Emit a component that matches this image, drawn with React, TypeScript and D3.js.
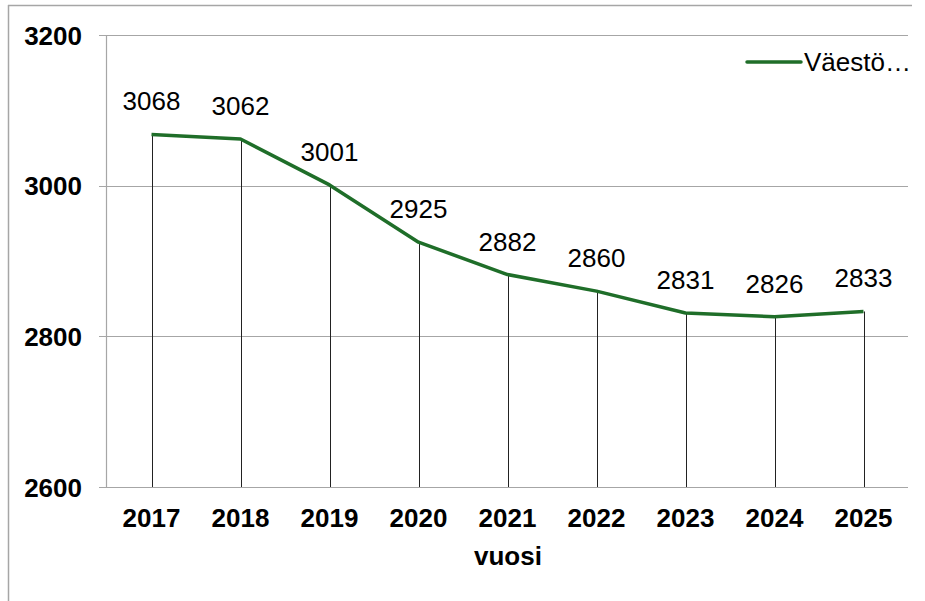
import { useEffect, useRef } from "react";
import { select, scaleLinear, scaleBand, line } from "d3";

const years = ["2017", "2018", "2019", "2020", "2021", "2022", "2023", "2024", "2025"];
const population = [3068, 3062, 3001, 2925, 2882, 2860, 2831, 2826, 2833];
const yTicks = [2600, 2800, 3000, 3200];
const seriesName = "Väestö…";
const xTitle = "vuosi";

const App = () => {
  const ref = useRef<SVGSVGElement>(null);

  useEffect(() => {
    if (!ref.current) return;
    const svg = select(ref.current);
    svg.selectAll("*").remove();

    const left = 107, right = 908, top = 35, bottom = 487;
    const green = "#1f6e29";
    const grid = "#a6a6a6";
    const font = "Arial, 'Liberation Sans', sans-serif";

    let x = scaleBand().domain(years).range([left, right]);
    let y = scaleLinear().domain([2600, 3200]).range([bottom, top]);

    // chart frame (only top and left edges show)
    svg.append("line").attr("x1", 8).attr("x2", 912).attr("y1", 5.5).attr("y2", 5.5)
      .attr("stroke", grid).attr("stroke-width", 1.5);
    svg.append("line").attr("x1", 8.5).attr("x2", 8.5).attr("y1", 5).attr("y2", 601)
      .attr("stroke", grid).attr("stroke-width", 1.5);

    // gridlines + y labels
    yTicks.forEach((t) => {
      svg.append("line")
        .attr("x1", left - 8).attr("x2", right)
        .attr("y1", Math.round(y(t)) + 0.5).attr("y2", Math.round(y(t)) + 0.5)
        .attr("stroke", grid).attr("stroke-width", 1.2);
      svg.append("text")
        .attr("x", 82).attr("y", y(t) + 9.5)
        .attr("text-anchor", "end")
        .attr("font-family", font).attr("font-size", 26).attr("font-weight", "bold")
        .text(t.toString());
    });

    // y axis line
    svg.append("line").attr("x1", left - 0.5).attr("x2", left - 0.5).attr("y1", top).attr("y2", bottom)
      .attr("stroke", grid).attr("stroke-width", 1.2);

    const cx = (d: string) => (x(d) as number) + x.bandwidth() / 2;

    // drop lines
    years.forEach((yr, i) => {
      svg.append("line")
        .attr("x1", Math.round(cx(yr)) + 0.5).attr("x2", Math.round(cx(yr)) + 0.5)
        .attr("y1", y(population[i])).attr("y2", bottom)
        .attr("stroke", "#222").attr("stroke-width", 1);
    });

    // x labels
    years.forEach((yr) => {
      svg.append("text")
        .attr("x", cx(yr)).attr("y", bottom + 40)
        .attr("text-anchor", "middle")
        .attr("font-family", font).attr("font-size", 26).attr("font-weight", "bold")
        .text(yr);
    });

    svg.append("text")
      .attr("x", 508).attr("y", 565)
      .attr("text-anchor", "middle")
      .attr("font-family", font).attr("font-size", 26).attr("font-weight", "bold")
      .text(xTitle);

    // series line
    let l = line<number>()
      .x((_, i) => cx(years[i]))
      .y((d) => y(d));
    svg.append("path")
      .datum(population)
      .attr("d", l)
      .attr("fill", "none")
      .attr("stroke", green)
      .attr("stroke-width", 3.5)
      .attr("stroke-linejoin", "round");

    // data labels
    population.forEach((v, i) => {
      svg.append("text")
        .attr("x", cx(years[i])).attr("y", y(v) - 24)
        .attr("text-anchor", "middle")
        .attr("font-family", font).attr("font-size", 26)
        .text(v.toString());
    });

    // legend
    svg.append("line").attr("x1", 747).attr("x2", 801).attr("y1", 62).attr("y2", 62)
      .attr("stroke", green).attr("stroke-width", 3.5).attr("stroke-linecap", "round");
    svg.append("text")
      .attr("x", 804).attr("y", 71)
      .attr("font-family", font).attr("font-size", 26)
      .text(seriesName);
  }, []);

  return (
    <svg
      ref={ref}
      width={925}
      height={601}
      style={{ position: "absolute", left: 0, top: 0, background: "#fff" }}
    />
  );
};

export default App;
